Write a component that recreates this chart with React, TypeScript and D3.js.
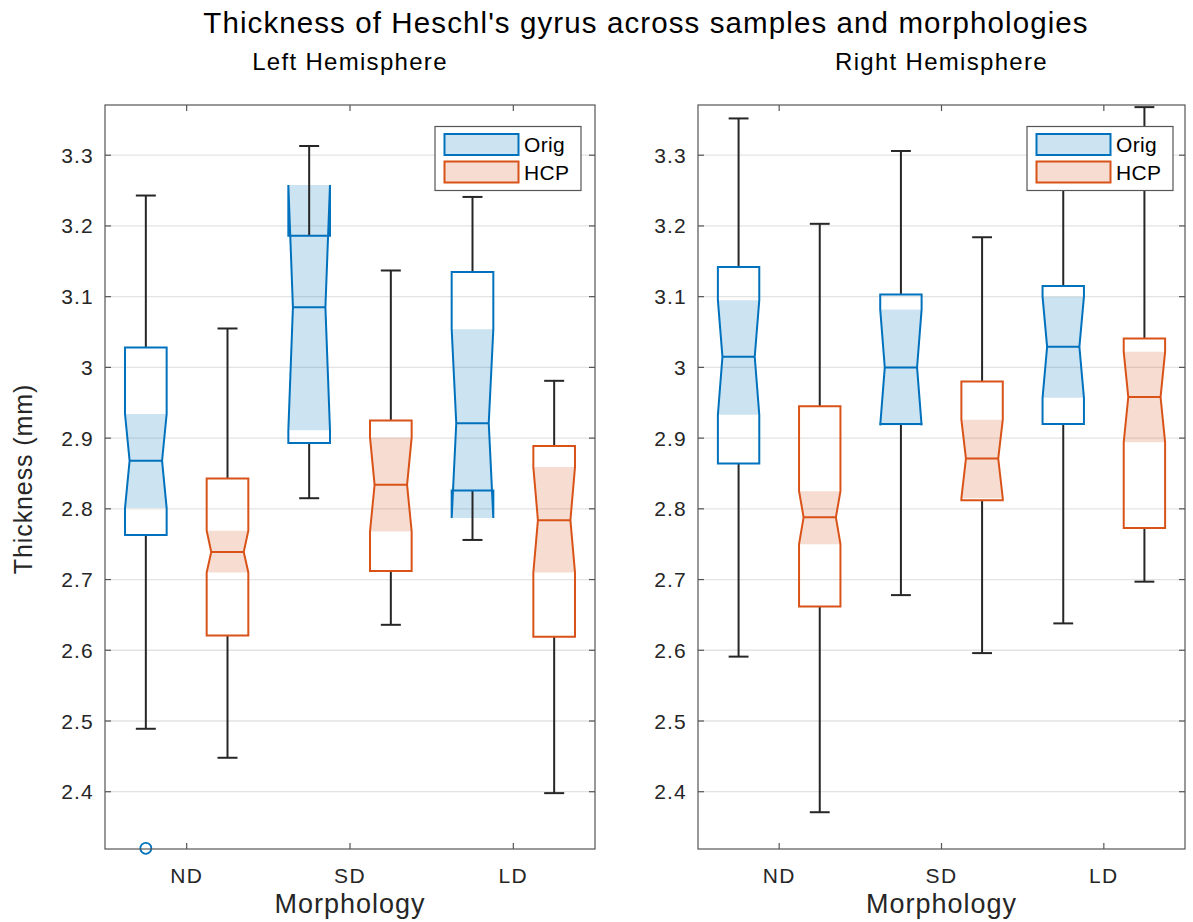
import React from "react";
import * as d3 from "d3";

// Morphology categories and sample groups
const categories = ["ND", "SD", "LD"];
const groups = ["Orig", "HCP"];
const groupColors = ["#0072BD", "#D95319"];

// Per-category box statistics: [min, q1, notchLow, median, notchHigh, q3, max]
const leftOrigStats = [
  [2.489, 2.763, 2.801, 2.868, 2.934, 3.028, 3.243],
  [2.815, 2.893, 2.911, 3.085, 3.258, 3.186, 3.313],
  [2.756, 2.826, 2.787, 2.921, 3.054, 3.135, 3.241],
];
const leftHcpStats = [
  [2.448, 2.621, 2.71, 2.739, 2.769, 2.843, 3.055],
  [2.636, 2.712, 2.768, 2.834, 2.901, 2.925, 3.137],
  [2.398, 2.619, 2.71, 2.784, 2.859, 2.889, 2.981],
];
const rightOrigStats = [
  [2.591, 2.864, 2.933, 3.015, 3.095, 3.142, 3.352],
  [2.678, 2.92, 2.918, 3.0, 3.082, 3.103, 3.306],
  [2.638, 2.92, 2.957, 3.029, 3.1, 3.115, 3.29],
];
const rightHcpStats = [
  [2.371, 2.662, 2.75, 2.788, 2.825, 2.945, 3.203],
  [2.596, 2.812, 2.815, 2.871, 2.926, 2.98, 3.184],
  [2.697, 2.773, 2.894, 2.958, 3.022, 3.041, 3.368],
];

// Outliers: [category index, value]
const leftOrigOutliers = [[0, 2.32]];
const leftHcpOutliers: number[][] = [];
const rightOrigOutliers: number[][] = [];
const rightHcpOutliers: number[][] = [];

const yTicks = [2.4, 2.5, 2.6, 2.7, 2.8, 2.9, 3.0, 3.1, 3.2, 3.3];
const yDomain = [2.319, 3.371];

const FONT = "'Liberation Sans', Arial, Helvetica, sans-serif";
const TEXT = "#262626";

type PanelProps = {
  x0: number;
  x1: number;
  title: string;
  showYLabel: boolean;
  stats: number[][][];
  outliers: number[][][];
  legendRight: number;
};

function Panel({ x0, x1, title, showYLabel, stats, outliers, legendRight }: PanelProps) {
  const top = 105;
  const bottom = 849;
  const y = d3.scaleLinear().domain(yDomain).range([bottom, top]);
  const x = d3.scaleBand().domain(categories).range([x0, x1]).padding(0);
  const offset = x.bandwidth() * 0.25;
  const boxW = x.bandwidth() * 0.255;
  const inset = boxW * 0.11;
  const capW = boxW * 0.48;
  const center = (c: string) => (x(c) as number) + x.bandwidth() / 2;

  const boxes: React.ReactNode[] = [];
  const fills: React.ReactNode[] = [];
  const whiskers: React.ReactNode[] = [];

  groups.forEach((g, gi) => {
    const color = groupColors[gi];
    stats[gi].forEach((s, ci) => {
      const [mn, q1, nLo, med, nHi, q3, mx] = s;
      const cx = center(categories[ci]) + (gi === 0 ? -offset : offset);
      const l = cx - boxW / 2;
      const r = cx + boxW / 2;
      const fillPath = d3.path();
      fillPath.moveTo(l, y(nHi));
      fillPath.lineTo(l + inset, y(med));
      fillPath.lineTo(l, y(nLo));
      fillPath.lineTo(r, y(nLo));
      fillPath.lineTo(r - inset, y(med));
      fillPath.lineTo(r, y(nHi));
      fillPath.closePath();
      fills.push(
        <path key={`f${gi}${ci}`} d={fillPath.toString()} fill={color} fillOpacity={0.2} stroke="none" />
      );

      const outline = d3.path();
      outline.moveTo(l, y(q3));
      outline.lineTo(l, y(nHi));
      outline.lineTo(l + inset, y(med));
      outline.lineTo(l, y(nLo));
      outline.lineTo(l, y(q1));
      outline.lineTo(r, y(q1));
      outline.lineTo(r, y(nLo));
      outline.lineTo(r - inset, y(med));
      outline.lineTo(r, y(nHi));
      outline.lineTo(r, y(q3));
      outline.closePath();
      boxes.push(
        <g key={`b${gi}${ci}`}>
          <path d={outline.toString()} fill="none" stroke={color} strokeWidth={2} strokeLinejoin="miter" />
          <line x1={l + inset} x2={r - inset} y1={y(med)} y2={y(med)} stroke={color} strokeWidth={2} />
        </g>
      );

      whiskers.push(
        <g key={`w${gi}${ci}`} stroke="#262626" strokeWidth={2}>
          <line x1={cx} x2={cx} y1={y(q3)} y2={y(mx)} />
          <line x1={cx - capW / 2} x2={cx + capW / 2} y1={y(mx)} y2={y(mx)} />
          <line x1={cx} x2={cx} y1={y(q1)} y2={y(mn)} />
          <line x1={cx - capW / 2} x2={cx + capW / 2} y1={y(mn)} y2={y(mn)} />
        </g>
      );
    });
    outliers[gi].forEach(([ci, v], k) => {
      const cx = center(categories[ci]) + (gi === 0 ? -offset : offset);
      boxes.push(
        <circle key={`o${gi}${k}`} cx={cx} cy={y(v)} r={5.5} fill="none" stroke={color} strokeWidth={1.8} />
      );
    });
  });

  const legendW = 146;
  const legendH = 64;
  const lx = legendRight - legendW;
  const ly = 126.5;

  return (
    <g>
      <text
        x={(x0 + x1) / 2}
        y={70}
        textAnchor="middle"
        fontFamily={FONT}
        fontSize={24}
        letterSpacing={1.3}
        fill="#000"
      >
        {title}
      </text>
      {/* grid */}
      {yTicks.map((t) => (
        <line key={t} x1={x0} x2={x1} y1={y(t)} y2={y(t)} stroke="#e3e3e3" strokeWidth={1.3} />
      ))}
      {fills}
      {whiskers}
      {boxes}
      {/* axes frame */}
      <rect x={x0} y={top} width={x1 - x0} height={bottom - top} fill="none" stroke="#555" strokeWidth={1.2} />
      {yTicks.map((t) => (
        <g key={`t${t}`}>
          <line x1={x0} x2={x0 + 6} y1={y(t)} y2={y(t)} stroke="#555" strokeWidth={1.2} />
          <line x1={x1} x2={x1 - 6} y1={y(t)} y2={y(t)} stroke="#555" strokeWidth={1.2} />
          <text
            x={x0 - 11}
            y={y(t)}
            dy="0.36em"
            textAnchor="end"
            fontFamily={FONT}
            fontSize={21}
            letterSpacing={1.2}
            fill={TEXT}
          >
            {String(+t.toFixed(1))}
          </text>
        </g>
      ))}
      {categories.map((c) => (
        <g key={`c${c}`}>
          <line x1={center(c)} x2={center(c)} y1={bottom} y2={bottom - 6} stroke="#555" strokeWidth={1.2} />
          <line x1={center(c)} x2={center(c)} y1={top} y2={top + 6} stroke="#555" strokeWidth={1.2} />
          <text
            x={center(c)}
            y={883}
            textAnchor="middle"
            fontFamily={FONT}
            fontSize={21}
            letterSpacing={1.3}
            fill={TEXT}
          >
            {c}
          </text>
        </g>
      ))}
      <text
        x={(x0 + x1) / 2}
        y={913}
        textAnchor="middle"
        fontFamily={FONT}
        fontSize={27}
        letterSpacing={1}
        fill={TEXT}
      >
        Morphology
      </text>
      {showYLabel && (
        <text
          transform={`translate(32,${(top + bottom) / 2 + 2}) rotate(-90)`}
          textAnchor="middle"
          fontFamily={FONT}
          fontSize={25}
          letterSpacing={0.9}
          fill={TEXT}
        >
          Thickness (mm)
        </text>
      )}
      {/* legend */}
      <rect x={lx} y={ly} width={legendW} height={legendH} fill="#fff" stroke="#555" strokeWidth={1.2} />
      {groups.map((g, gi) => (
        <g key={`l${g}`}>
          <rect
            x={lx + 9.5}
            y={ly + 7.5 + gi * 27.5}
            width={74}
            height={21}
            fill={groupColors[gi]}
            fillOpacity={0.2}
            stroke={groupColors[gi]}
            strokeWidth={2}
          />
          <text
            x={lx + 89}
            y={ly + 18 + gi * 27.5}
            dy="0.36em"
            fontFamily={FONT}
            fontSize={21}
            letterSpacing={0.3}
            fill="#000"
          >
            {g}
          </text>
        </g>
      ))}
    </g>
  );
}

export default function App() {
  return (
    <div style={{ position: "absolute", left: 0, top: 0 }}>
      <svg width={1193} height={922} style={{ display: "block", background: "#fff" }}>
        <text
          x={646}
          y={33}
          textAnchor="middle"
          fontFamily={FONT}
          fontSize={29.5}
          letterSpacing={1.1}
          fill="#000"
        >
          Thickness of Heschl's gyrus across samples and morphologies
        </text>
        <Panel
          x0={105}
          x1={595}
          title="Left Hemisphere"
          showYLabel={true}
          stats={[leftOrigStats, leftHcpStats]}
          outliers={[leftOrigOutliers, leftHcpOutliers]}
          legendRight={581}
        />
        <Panel
          x0={698}
          x1={1185}
          title="Right Hemisphere"
          showYLabel={false}
          stats={[rightOrigStats, rightHcpStats]}
          outliers={[rightOrigOutliers, rightHcpOutliers]}
          legendRight={1173}
        />
      </svg>
    </div>
  );
}
